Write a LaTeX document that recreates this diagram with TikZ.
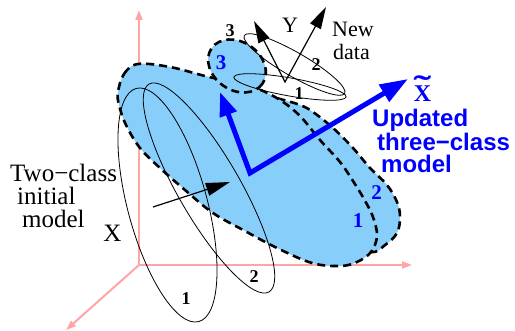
\documentclass[tikz,border=0pt]{standalone}
\usepackage{fontspec}
\setmainfont{Liberation Serif}
\newfontfamily\helvfont{Liberation Sans}
\usetikzlibrary{arrows.meta}
\definecolor{axispink}{RGB}{255,165,165}
\definecolor{regionblue}{RGB}{135,206,250}
\definecolor{pureblue}{RGB}{0,0,255}
\begin{document}
\begin{tikzpicture}[x=1pt,y=-1pt,
  axisline/.style={draw=axispink, line width=2pt, -{Triangle[length=10pt,width=7pt]}},
  region/.style={fill=regionblue, draw=black, line width=2.6pt, dash pattern=on 8pt off 5pt},
  thinell/.style={draw=black, line width=0.8pt},
  blackarrow/.style={draw=black, line width=1.2pt, -{Triangle[length=24pt,width=13pt]}},
  yarrows/.style={draw=black, line width=1.2pt, line join=miter, {Triangle[length=22pt,width=12pt]}-{Triangle[length=22pt,width=12pt]}},
  bluearrows/.style={draw=pureblue, line width=5pt, line join=miter, {Triangle[length=24pt,width=17pt]}-{Triangle[length=28pt,width=19pt]}},
  serif/.style={inner sep=0pt, anchor=base west, font=\fontsize{25}{23}\selectfont},
  smallserif/.style={inner sep=0pt, anchor=base west, font=\fontsize{22}{23}\selectfont},
  blackdigit/.style={inner sep=0pt, anchor=base, font=\fontsize{18}{20}\selectfont\bfseries},
  bluedigit/.style={inner sep=0pt, anchor=base, text=pureblue, font=\fontsize{21}{22}\selectfont\bfseries},
  bluesans/.style={inner sep=0pt, anchor=base west, text=pureblue, font=\helvfont\fontsize{24}{22}\selectfont\bfseries}
]
\useasboundingbox (0,0) rectangle (515,331);

% axes
\coordinate (O) at (139,265);
\coordinate (axtop) at (139,10);
\coordinate (axright) at (412,265);
\coordinate (axdown) at (66,330);
\draw[axisline] (O) -- (axtop);
\draw[axisline] (O) -- (axright);
\draw[axisline] (O) -- (axdown);

% updated region, class 2 (drawn first)
\draw[region] plot[smooth cycle, tension=0.6] coordinates {
  (136,86) (150,76) (175,77) (205,84) (235,90) (256,93) (280,99) (300,105)
  (313,112) (333,128) (353,148) (370,168) (387,185) (397,202) (400,217)
  (397,233) (385,245) (370,252) (330,240) (260,200) (190,150) (140,112) (128,95)};
% updated region, class 1
\draw[region] plot[smooth cycle, tension=0.6] coordinates {
  (118,92) (124,74) (138,64) (170,67) (205,76) (235,83) (257,88.5) (280,100)
  (300,116) (320,140) (340,162) (353,181) (364,199) (373,217) (377,236)
  (371,252) (357,262) (340,266) (312,263) (277,248) (245,231) (213,213)
  (185,190) (160,168) (140,148) (126,125) (119,105)};
% updated region, class 3
\draw[region, rotate around={-35:(237,66)}] (237,66) ellipse (31 and 24);

% two-class initial model
\draw[thinell, rotate around={-75:(167.5,205)}] (167.5,205) ellipse (120.7 and 39.8);
\draw[thinell, rotate around={-60:(209,188)}] (209,188) ellipse (120 and 31);

% new data
\draw[thinell, rotate around={-30:(294.5,64.5)}] (294.5,64.5) ellipse (58 and 12);
\draw[thinell, rotate around={-10:(290,87)}] (290,87) ellipse (57 and 9);

% Y axes of new data
\coordinate (yv) at (285,82);
\coordinate (ya) at (254,21);
\coordinate (yb) at (326,7);
\draw[yarrows] (ya) -- (yv) -- (yb);

% black arrow
\coordinate (ba1) at (153,207);
\coordinate (ba2) at (230,182);
\draw[blackarrow] (ba1) -- (ba2);

% blue arrows
\coordinate (bv) at (250,173);
\coordinate (bu) at (220,92);
\coordinate (br) at (408,79);
\draw[bluearrows] (bu) -- (bv) -- (br);

% texts
\node[serif] (two) at (10,182) {Two−class};
\node[serif] (initial) at (17,205) {initial};
\node[serif] (model) at (22,228) {model};
\node[serif, anchor=base] (xlab) at (112.5,242) {X};
\node[smallserif, anchor=base] (ylab) at (290,33) {Y};
\node[smallserif] (new) at (332,37) {New};
\node[smallserif] (data) at (333,60) {data};

\node[blackdigit] (d1) at (186,305) {1};
\node[blackdigit] (d2) at (254,283) {2};
\node[blackdigit] (n1) at (299,100) {1};
\node[blackdigit] (n2) at (316,71) {2};
\node[blackdigit] (n3) at (230,37) {3};

\node[bluedigit] (b3) at (221,70) {3};
\node[bluedigit] (b1) at (358,228) {1};
\node[bluedigit] (b2) at (376.5,200) {2};
\node[bluedigit, font=\fontsize{24}{24}\selectfont\bfseries] (xt) at (422.5,102)
  {\ooalign{X\cr\hidewidth\raisebox{4.5pt}{\scalebox{2.2}[1.3]{\char"02DC}}\hidewidth\cr}};

\node[bluesans] (upd) at (372,127) {Updated};
\node[bluesans] (three) at (377,151) {three−class};
\node[bluesans] (mod) at (381,173) {model};
\end{tikzpicture}
\end{document}
